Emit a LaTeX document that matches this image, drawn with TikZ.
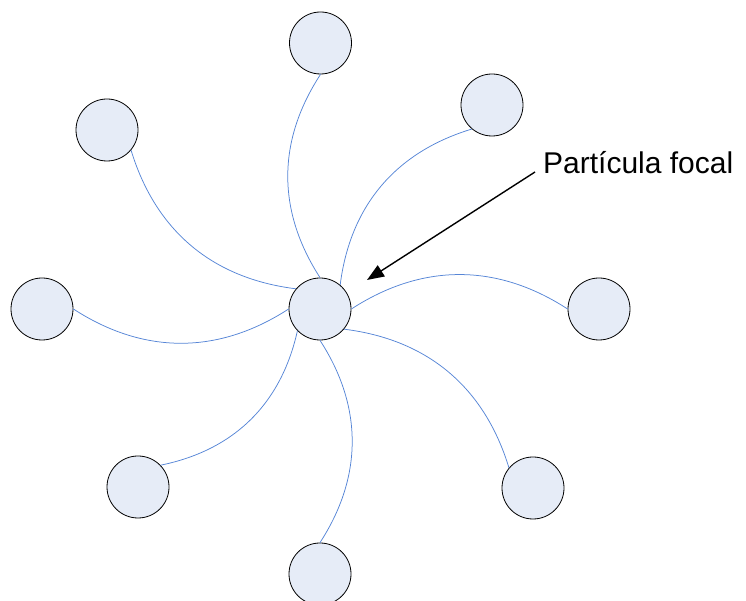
\documentclass[tikz,border=0pt]{standalone}
\usepackage{fontspec}
\setmainfont{Liberation Sans}
\usetikzlibrary{positioning,arrows.meta}
\definecolor{particlefill}{RGB}{230,236,247}
\definecolor{linkblue}{RGB}{86,133,214}

\tikzset{
  particle/.style={circle, draw=black, line width=0.8pt, fill=particlefill, minimum size=62pt, inner sep=0pt},
  link/.style={linkblue, line width=0.75pt, bend right=33},
  pointer/.style={-{Triangle[length=17pt,width=13pt]}, black, line width=1.4pt}
}

\begin{document}
\begin{tikzpicture}[x=1pt,y=1pt]
        \clip (0,0) rectangle (746,601);

        % focal particle and its neighbours
        \node[particle] (focal) at (320,292) {};
        \node[particle] (top) at (320.5,558) {};
        \node[particle] (upright) at (492,496) {};
        \node[particle] (upleft) at (107,471) {};
        \node[particle] (left) at (42,292) {};
        \node[particle] (right) at (599,292) {};
        \node[particle] (lowleft) at (138,114) {};
        \node[particle] (lowright) at (533,113) {};
        \node[particle] (bottom) at (320,27) {};

        % curved links into the focal particle
        \draw[link] (top.270) to (focal.90);
        \draw[link] (upright.230) to (focal.50);
        \draw[link] (right.180) to (focal.0);
        \draw[link] (lowright.140) to (focal.320);
        \draw[link] (bottom.90) to (focal.270);
        \draw[link] (lowleft.44) to (focal.224);
        \draw[link] (left.0) to (focal.180);
        \draw[link] (upleft.320) to (focal.140);

        % label with arrow
        \node[anchor=base west, inner sep=0pt, font=\fontsize{30}{36}\selectfont] (label) at (543,427) {Partícula focal};
        \coordinate (labelfoot) at (535,429);
        \coordinate (focaltip) at (367,321);
        \draw[pointer] (labelfoot) -- (focaltip);
    \end{tikzpicture}
\end{document}
